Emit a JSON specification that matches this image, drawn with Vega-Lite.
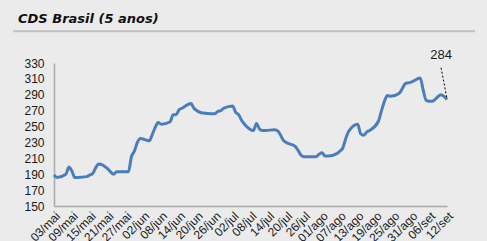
{
  "$schema": "https://vega.github.io/schema/vega-lite/v6.json",
  "width": 393,
  "height": 143,
  "autosize": {"type": "none"},
  "padding": {"left": 54, "top": 63, "right": 40, "bottom": 35},
  "background": "#ebebeb",
  "title": {
    "text": "CDS Brasil (5 anos)",
    "anchor": "start",
    "frame": "group",
    "dx": -36,
    "offset": 4,
    "font": "DejaVu Sans",
    "fontSize": 13,
    "fontStyle": "italic",
    "fontWeight": "bold",
    "color": "#111111"
  },
  "config": {
    "view": {"stroke": null},
    "axis": {"labelFont": "Liberation Sans", "labelFontSize": 12, "labelColor": "#1a1a1a", "grid": false, "ticks": false, "tickSize": 0, "domainColor": "#a9a9a9", "domainWidth": 1.5, "title": null, "labelOverlap": false, "labelBound": false}
  },
  "datasets": {
    "cds": [
      {"date": "2018-05-03", "cds": 189},
      {"date": "2018-05-04", "cds": 186},
      {"date": "2018-05-07", "cds": 190},
      {"date": "2018-05-08", "cds": 199},
      {"date": "2018-05-09", "cds": 194},
      {"date": "2018-05-10", "cds": 186},
      {"date": "2018-05-11", "cds": 186},
      {"date": "2018-05-14", "cds": 187},
      {"date": "2018-05-15", "cds": 189},
      {"date": "2018-05-16", "cds": 191},
      {"date": "2018-05-17", "cds": 198},
      {"date": "2018-05-18", "cds": 203},
      {"date": "2018-05-21", "cds": 197},
      {"date": "2018-05-22", "cds": 193},
      {"date": "2018-05-23", "cds": 190},
      {"date": "2018-05-24", "cds": 193},
      {"date": "2018-05-25", "cds": 193},
      {"date": "2018-05-28", "cds": 193},
      {"date": "2018-05-29", "cds": 212},
      {"date": "2018-05-30", "cds": 219},
      {"date": "2018-05-31", "cds": 230},
      {"date": "2018-06-01", "cds": 235},
      {"date": "2018-06-04", "cds": 232},
      {"date": "2018-06-05", "cds": 240},
      {"date": "2018-06-06", "cds": 249},
      {"date": "2018-06-07", "cds": 255},
      {"date": "2018-06-08", "cds": 253},
      {"date": "2018-06-11", "cds": 256},
      {"date": "2018-06-12", "cds": 265},
      {"date": "2018-06-13", "cds": 265},
      {"date": "2018-06-14", "cds": 271},
      {"date": "2018-06-15", "cds": 273},
      {"date": "2018-06-18", "cds": 279},
      {"date": "2018-06-19", "cds": 273},
      {"date": "2018-06-20", "cds": 270},
      {"date": "2018-06-21", "cds": 268},
      {"date": "2018-06-22", "cds": 267},
      {"date": "2018-06-25", "cds": 266},
      {"date": "2018-06-26", "cds": 266},
      {"date": "2018-06-27", "cds": 269},
      {"date": "2018-06-28", "cds": 270},
      {"date": "2018-06-29", "cds": 273},
      {"date": "2018-07-02", "cds": 276},
      {"date": "2018-07-03", "cds": 268},
      {"date": "2018-07-04", "cds": 265},
      {"date": "2018-07-05", "cds": 258},
      {"date": "2018-07-06", "cds": 253},
      {"date": "2018-07-09", "cds": 245},
      {"date": "2018-07-10", "cds": 254},
      {"date": "2018-07-11", "cds": 247},
      {"date": "2018-07-12", "cds": 245},
      {"date": "2018-07-13", "cds": 245},
      {"date": "2018-07-16", "cds": 246},
      {"date": "2018-07-17", "cds": 245},
      {"date": "2018-07-18", "cds": 240},
      {"date": "2018-07-19", "cds": 233},
      {"date": "2018-07-20", "cds": 230},
      {"date": "2018-07-23", "cds": 225},
      {"date": "2018-07-24", "cds": 220},
      {"date": "2018-07-25", "cds": 214},
      {"date": "2018-07-26", "cds": 212},
      {"date": "2018-07-27", "cds": 212},
      {"date": "2018-07-30", "cds": 212},
      {"date": "2018-07-31", "cds": 215},
      {"date": "2018-08-01", "cds": 217},
      {"date": "2018-08-02", "cds": 213},
      {"date": "2018-08-03", "cds": 213},
      {"date": "2018-08-06", "cds": 216},
      {"date": "2018-08-07", "cds": 219},
      {"date": "2018-08-08", "cds": 223},
      {"date": "2018-08-09", "cds": 235},
      {"date": "2018-08-10", "cds": 244},
      {"date": "2018-08-13", "cds": 253},
      {"date": "2018-08-14", "cds": 241},
      {"date": "2018-08-15", "cds": 239},
      {"date": "2018-08-16", "cds": 243},
      {"date": "2018-08-17", "cds": 245},
      {"date": "2018-08-20", "cds": 257},
      {"date": "2018-08-21", "cds": 270},
      {"date": "2018-08-22", "cds": 282},
      {"date": "2018-08-23", "cds": 289},
      {"date": "2018-08-24", "cds": 288},
      {"date": "2018-08-27", "cds": 292},
      {"date": "2018-08-28", "cds": 298},
      {"date": "2018-08-29", "cds": 304},
      {"date": "2018-08-30", "cds": 305},
      {"date": "2018-08-31", "cds": 306},
      {"date": "2018-09-03", "cds": 311},
      {"date": "2018-09-04", "cds": 296},
      {"date": "2018-09-05", "cds": 283},
      {"date": "2018-09-06", "cds": 282},
      {"date": "2018-09-07", "cds": 282},
      {"date": "2018-09-10", "cds": 290},
      {"date": "2018-09-11", "cds": 288},
      {"date": "2018-09-12", "cds": 284}
    ],
    "leader": [
      {"date": "2018-09-10T00:00:00Z", "cds": 324, "date2": "2018-09-12T00:00:00Z", "cds2": 285}
    ],
    "label": [
      {"date": "2018-09-10T00:00:00Z", "cds": 340, "text": "284"}
    ],
    "divider": [
      {"date": "2018-04-19T06:00:00Z", "date2": "2018-09-21T10:00:00Z", "cds": 370}
    ]
  },
  "layer": [
    {
      "data": {"name": "cds"},
      "mark": {"type": "line", "color": "#4a7ebb", "strokeWidth": 3, "interpolate": "monotone"},
      "encoding": {
        "x": {
          "field": "date", "type": "temporal",
          "scale": {"type": "utc", "domain": [{"year": 2018, "month": 5, "date": 3, "utc": true}, {"year": 2018, "month": 9, "date": 12, "utc": true}], "nice": false},
          "axis": {
            "labelAngle": -45,
            "labelPadding": 4,
            "labelOverlap": false,
            "labelBound": false,
            "tickCount": 100,
            "values": [
              {"year": 2018, "month": 5, "date": 3, "utc": true},
              {"year": 2018, "month": 5, "date": 9, "utc": true},
              {"year": 2018, "month": 5, "date": 15, "utc": true},
              {"year": 2018, "month": 5, "date": 21, "utc": true},
              {"year": 2018, "month": 5, "date": 27, "utc": true},
              {"year": 2018, "month": 6, "date": 2, "utc": true},
              {"year": 2018, "month": 6, "date": 8, "utc": true},
              {"year": 2018, "month": 6, "date": 14, "utc": true},
              {"year": 2018, "month": 6, "date": 20, "utc": true},
              {"year": 2018, "month": 6, "date": 26, "utc": true},
              {"year": 2018, "month": 7, "date": 2, "utc": true},
              {"year": 2018, "month": 7, "date": 8, "utc": true},
              {"year": 2018, "month": 7, "date": 14, "utc": true},
              {"year": 2018, "month": 7, "date": 20, "utc": true},
              {"year": 2018, "month": 7, "date": 26, "utc": true},
              {"year": 2018, "month": 8, "date": 1, "utc": true},
              {"year": 2018, "month": 8, "date": 7, "utc": true},
              {"year": 2018, "month": 8, "date": 13, "utc": true},
              {"year": 2018, "month": 8, "date": 19, "utc": true},
              {"year": 2018, "month": 8, "date": 25, "utc": true},
              {"year": 2018, "month": 8, "date": 31, "utc": true},
              {"year": 2018, "month": 9, "date": 6, "utc": true},
              {"year": 2018, "month": 9, "date": 12, "utc": true}
            ],
            "labelExpr": "utcFormat(datum.value, '%d') + '/' + ['jan','fev','mar','abr','mai','jun','jul','ago','set','out','nov','dez'][utcmonth(datum.value)]"
          }
        },
        "y": {
          "field": "cds", "type": "quantitative",
          "scale": {"domain": [150, 330], "nice": false, "zero": false},
          "axis": {"values": [150, 170, 190, 210, 230, 250, 270, 290, 310, 330], "tickCount": 100, "labelPadding": 10, "labelOverlap": false, "labelBound": false}
        }
      }
    },
    {
      "data": {"name": "leader"},
      "mark": {"type": "rule", "color": "#000000", "strokeWidth": 1, "strokeDash": [2, 2]},
      "encoding": {
        "x": {"field": "date", "type": "temporal"},
        "x2": {"field": "date2"},
        "y": {"field": "cds", "type": "quantitative"},
        "y2": {"field": "cds2"}
      }
    },
    {
      "data": {"name": "label"},
      "mark": {"type": "text", "font": "Liberation Sans", "fontSize": 13, "color": "#1a1a1a", "baseline": "middle", "align": "center"},
      "encoding": {
        "x": {"field": "date", "type": "temporal"},
        "y": {"field": "cds", "type": "quantitative"},
        "text": {"field": "text"}
      }
    },
    {
      "data": {"name": "divider"},
      "mark": {"type": "rule", "color": "#c0c0c0", "strokeWidth": 2},
      "encoding": {
        "x": {"field": "date", "type": "temporal"},
        "x2": {"field": "date2"},
        "y": {"field": "cds", "type": "quantitative"}
      }
    }
  ]
}
